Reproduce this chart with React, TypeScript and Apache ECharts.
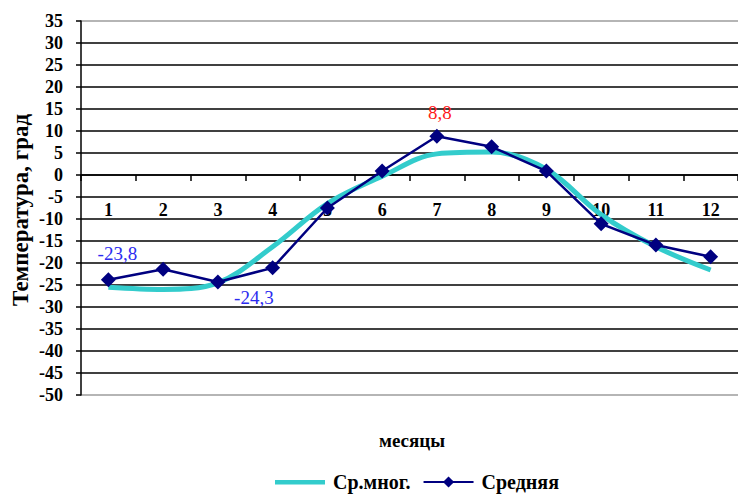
import React, { useEffect, useRef } from "react";
import * as echarts from "echarts";

const months = ["1", "2", "3", "4", "5", "6", "7", "8", "9", "10", "11", "12"];
const longTermMean = [-25.5, -26.0, -24.5, -16.3, -6.5, -0.3, 4.8, 5.2, 1.3, -9.0, -16.3, -21.6];
const average = [-23.8, -21.4, -24.3, -21.1, -7.5, 0.9, 8.8, 6.4, 0.9, -11.1, -15.9, -18.6];
const seriesNames = ["Ср.мног.", "Средняя"];
const yAxisTitle = "Температура, град";
const xAxisTitle = "месяцы";

const FONT = "'Liberation Serif', 'Times New Roman', serif";

export default function App() {
  const ref = useRef<HTMLDivElement>(null);
  useEffect(() => {
    if (!ref.current) return;
    const chart = echarts.init(ref.current, undefined, { renderer: "svg" });
    const fmt = (v: number) => String(v).replace(".", ",");
    const labelStyles: Record<number, any> = {
      0: { show: true, position: "top", offset: [9, -4], color: "#2b2bf0" },
      2: { show: true, position: "bottom", offset: [36, -6], color: "#2b2bf0" },
      6: { show: true, position: "top", offset: [3, -2], color: "#ff1a1a" },
    };
    const avgData = average.map((v, i) =>
      labelStyles[i]
        ? {
            value: v,
            label: {
              ...labelStyles[i],
              fontFamily: FONT,
              fontSize: 19,
              formatter: () => fmt(v),
            },
          }
        : v
    );
    const splitColors = Array.from({ length: 18 }, (_, i) =>
      i === 0 || i === 17 ? "#b5b5b5" : "#404040"
    );
    const barIcon =
      "path://M0,0L0.001,0L0,0.001Z M0,5L50,5L50,9.5L0,9.5Z M0,14L0.001,14L0,13.999Z";
    chart.setOption({
      animation: false,
      backgroundColor: "#ffffff",
      grid: { left: 81, top: 21, width: 666, height: 374, containLabel: false },
      legend: {
        left: 270,
        top: 467,
        itemWidth: 50,
        itemHeight: 14,
        itemGap: 12,
        textStyle: {
          fontFamily: FONT,
          fontSize: 20,
          fontWeight: "bold",
          color: "#000",
          padding: [0, 0, 0, 3],
        },
        data: [
          { name: seriesNames[0], icon: barIcon },
          { name: seriesNames[1] },
        ],
      },
      xAxis: {
        type: "category",
        data: months,
        boundaryGap: true,
        offset: -220,
        axisLine: { onZero: false, lineStyle: { color: "#000", width: 1.5 } },
        axisTick: { show: true, length: 6, lineStyle: { color: "#000", width: 1.5 } },
        axisLabel: {
          margin: 26,
          fontFamily: FONT,
          fontSize: 18,
          fontWeight: "bold",
          color: "#000",
        },
        splitLine: { show: false },
      },
      yAxis: {
        type: "value",
        min: -50,
        max: 35,
        interval: 5,
        axisLine: { show: true, lineStyle: { color: "#000", width: 1.5 } },
        axisTick: { show: true, length: 5, lineStyle: { color: "#000", width: 1.5 } },
        axisLabel: {
          margin: 18,
          fontFamily: FONT,
          fontSize: 18,
          fontWeight: "bold",
          color: "#000",
        },
        splitLine: { show: true, lineStyle: { color: splitColors, width: 1.8 } },
      },
      graphic: [
        {
          type: "text",
          x: 20,
          y: 210,
          rotation: Math.PI / 2,
          style: {
            text: yAxisTitle,
            align: "center",
            verticalAlign: "middle",
            font: `bold 23px ${FONT}`,
            fill: "#000",
          },
        },
        {
          type: "text",
          x: 412,
          y: 440,
          style: {
            text: xAxisTitle,
            align: "center",
            verticalAlign: "middle",
            font: `bold 19px ${FONT}`,
            fill: "#000",
          },
        },
      ],
      series: [
        {
          name: seriesNames[0],
          type: "line",
          data: longTermMean,
          smooth: 0.35,
          symbol: "none",
          lineStyle: { color: "#33cccc", width: 5 },
          itemStyle: { color: "#33cccc" },
          z: 2,
        },
        {
          name: seriesNames[1],
          type: "line",
          data: avgData,
          symbol: "diamond",
          symbolSize: 15,
          lineStyle: { color: "#000080", width: 2.5 },
          itemStyle: { color: "#000080" },
          label: { show: false },
          z: 3,
        },
      ],
    });
    return () => chart.dispose();
  }, []);
  return (
    <div
      ref={ref}
      style={{ position: "fixed", left: 0, top: 0, width: 738, height: 497 }}
    />
  );
}
